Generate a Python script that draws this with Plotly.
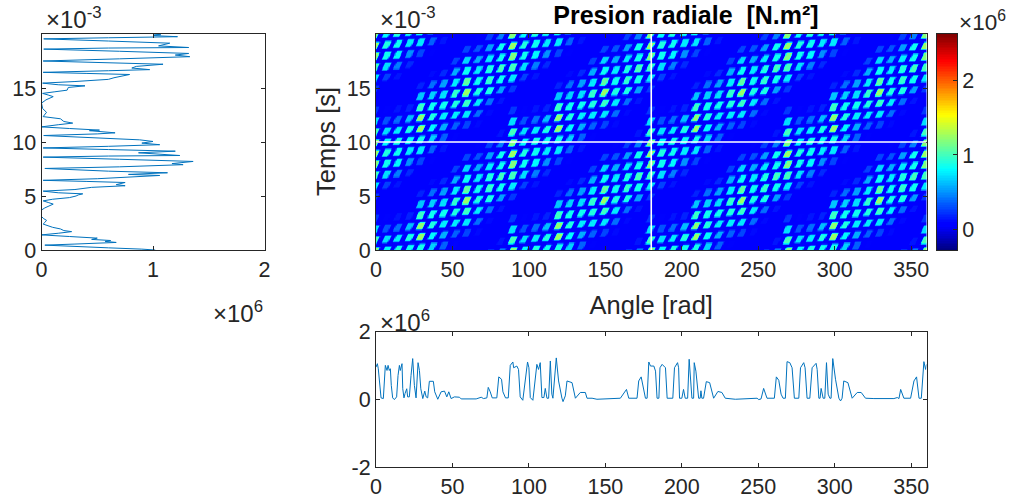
import numpy as np
import plotly.graph_objects as go

# Slot-cell amplitudes, one 90 deg x 10 ms period (unit 1e4 N.m2).
# Rows: time bin 0..9, columns: slot 0..11 (7.5 deg apart)
cell_values = [
    [100,  80,  90,  85,  88,  68,  36,   9,   8,   5,   5,  14],
    [ 72,  72,  76,  90, 125,  80,  58,  36,  28,  11,   5,   5],
    [ 24,  32,  40,  63, 122,  90,  76,  76,  75,  40,  11,   6],
    [  6,   9,  14,  18,  98,  85,  85,  90,  98,  76,  40,  14],
    [ 24,   5,   5,   6,  65,  68,  72,  95, 125,  90,  90,  54],
    [ 75,   5,   5,   5,  18,  40,  54,  76, 108,  85,  95,  85],
    [100,  27,  14,   6,   5,  11,  20,  58,  84,  76,  90, 100],
    [118,  72,  45,  20,   8,   5,   5,  27,  70,  58,  76,  85],
    [125,  85,  80,  50,  28,   9,   5,   7,  28,  32,  54,  85],
    [118,  90,  85,  76,  75,  36,  14,   5,   6,   9,  27,  45],
]
background_value = 4

# Left profile: time in ms, pressure in 1e6 N.m2
left_time = [0, .08, .2, .35, .45, .55, .7, .8, .88, .98, 1.1, 1.25, 1.32, 1.4, 1.55, 1.7, 1.8, 1.95, 2.1, 2.25, 2.4,
             2.55, 2.75, 2.9, 3.1, 3.4, 3.7, 3.9, 4.05, 4.25, 4.4, 4.55, 4.7, 4.85, 5.0, 5.1, 5.2, 5.3, 5.45, 5.6, 5.8, 5.95,
             6.05, 6.25, 6.35, 6.45, 6.6, 6.75, 6.9, 7.0, 7.15, 7.3, 7.55, 7.7, 7.9, 8.0, 8.2, 8.4, 8.6, 8.7, 8.75, 9.0,
             9.15, 9.3, 9.45, 9.6, 9.75, 9.9, 10.0,
             10.05, 10.2, 10.4, 10.6, 10.75, 10.85, 11.05, 11.1, 11.25, 11.4, 11.6, 11.75, 11.9, 12.15, 12.35, 12.55, 12.75,
             13.1, 13.6, 13.9, 14.2, 14.35, 14.5, 14.65, 14.8, 15.05, 15.2, 15.3, 15.45, 15.6, 15.8, 15.95, 16.25, 16.35, 16.45,
             16.6, 16.7, 16.85, 17.0, 17.2, 17.35, 17.5, 17.7, 17.9, 18.05, 18.2, 18.4, 18.6, 18.7, 18.75, 18.9, 19.15, 19.35,
             19.55, 19.65, 19.75, 19.85, 19.93, 20.0]
left_value = [1.02, .9, .6, .2, .03, .3, .67, .57, .62, .45, .5, .25, .1, .0, .15, .27, .2, .17, .1, .05, .015,
              .03, .045, .02, 0, .0, 0, .03, .06, .105, .06, .015, .1, .25, .31, .33, .37, .15, .015, .3, .45, .75,
              .67, .75, .4, .015, .5, .85, 1.06, .78, 1.13, .6, .03, .7, 1.27, 1.17, 1.36, .7, .015, .6, 1.24, .87,
              1.2, .6, .015, .6, 1.06, .9, .99,
              1.0, .88, .4, .02, .5, .66, .43, .52, .25, .0, .15, .28, .2, .17, .015, .03, .045,
              .01, .0, .04, .105, .06, .01, .12, .23, .24, .39, .15, .01, .3, .6, .65, .79, .4, .015,
              .6, .97, .81, .85, 1.09, .55, .015, .7, 1.33, 1.2, 1.32, .7, .02, .6, 1.32, 1.05, 1.15, .6,
              .02, .6, 1.22, 1.0, 1.07, 1.0]

# Bottom profile: angle in degrees, pressure in 1e6 N.m2
bottom_angle = [0, .9, 1.5, 2.6, 3.3, 4.8, 5.5, 6.1, 7.2, 7.9, 8.7, 9.4, 10, 10.9, 12, 13.5, 14.4, 15.3, 15.9, 17, 17.5, 18.3,
                19, 20.1, 20.7, 21.8, 22.9, 24, 25.1, 26.2, 27.5, 28.4, 29.3, 30.6, 31.9, 32.8, 33.8, 34.9, 37.5, 38.4, 40.4,
                42.6, 44.8, 46.3, 47.6, 49.1, 51.3, 54.6, 55.7, 65.5, 68.8, 70.3, 72.5, 73.4, 74.7, 76, 79, 80.3, 82.1, 83,
                84.7, 86.5, 87.8, 89.5, 90, 92.1, 93.2, 94.3, 96, 97.6, 98.7, 99.1, 100, 100.9, 102.6, 104.1, 105.2, 106.3,
                107.4, 108.5, 109.8, 110.7, 111.8, 112.9, 114, 115, 115.7, 117.9, 119.4, 121.6, 122.3, 123.8, 124.9, 128.2,
                130.4, 133.6, 136.9, 138, 141.3, 144.5, 156.5, 159.8, 163.8, 165.3, 170.7, 171.8, 173.4, 175.1, 176.2, 177.3,
                178.4, 179.5, 181.7, 182.8, 183.8, 185, 185.7, 187.1, 189.3, 190.4, 191.9, 192.4, 194.1, 195.2, 197.2, 197.9,
                198.5, 200, 201.1, 202.2, 203.8, 204.8, 205.9, 206.6, 207.7, 208.1, 209.2, 211, 212, 212.5, 213.1, 214.2, 216,
                218.2, 220.8, 223.6, 226.2, 228.4, 235, 249.2, 250.3, 251.8, 253.5, 254.6, 255.7, 260.5, 261.8, 263.4, 264.9,
                266.2, 267.7, 268.8, 270.6, 272.1, 273.6, 276.5, 277.6, 279.7, 280.6, 281.9, 283.7, 285.2, 287.8, 288.5, 289.6,
                290.4, 291.1, 292.4, 293.5, 294.6, 295.7, 296.8, 297.6, 298.7, 300.5, 302.7, 303.8, 304.8, 305.9, 308.6, 311.4,
                314.7, 317.3, 320.1, 325.6, 338.7, 340.9, 342, 343.1, 345.2, 349.6, 351.8, 353.5, 355.1, 356.6, 358.3, 359.4, 360]
bottom_value = [.95, 1.05, .9, .31, .04, .02, .7, 1.0, .85, 1.0, .85, .9, .41, .04, -.01, .07, .7, 1.0, .85, 1.05, .31, .04,
                .17, .31, .07, .07, .7, 1.2, .41, .04, 1.08, .85, .31, .02, .24, .07, .04, .53, .53, .22, 0,
                .22, .24, .07, .22, .02, .07, .06, .01, .01, .06, .02, .04, .35, .22, .04, .04, .66, .59, .22,
                .04, .04, 1.0, 1.1, .93, .98, .88, .07, -.03, .6, .93, 1.1, .93, .05, -.03, .6, 1.03, .88,
                1.08, .05, .05, .32, .03, .03, 1.13, .15, .03, 1.22, .54, .03, -.07, .1, .54, .49,
                .03, .2, .2, .03, .03, 0, .03, .03, .29, .03, .03, .54, .66, .25, .03, .03,
                1.1, .98, .98, .83, .03, .03, .93, 1.03, .93, .03, .03, .03, .03, .93, 1.08, .93,
                .03, .03, .29, .03, .03, 1.18, .34, .03, .03, 1.08, .83, .03, .03, .25, .03, .03, .52,
                .49, .03, .23, .2, .03, 0, .03, -.01, .01, .32, .15, .03, .03, .66, .56, .15,
                .03, .03, 1.11, 1.08, .93, .03, .03, .93, 1.08, .93, .03, .03, .93, 1.06, .88, .03,
                .03, .32, .03, .03, 1.08, .15, .03, .03, 1.2, .59, .03, -.05, .03, .54, .49, .03,
                .2, .2, .03, .02, .02, .05, .02, .29, .03, .03, .54, .66, .03, .03, 1.11, .88, 1.03]

colorbar_ticks = [0, 1e6, 2e6]
colorbar_labels = ["0", "1", "2"]
angle_ticks = [0, 50, 100, 150, 200, 250, 300, 350]
time_ticks_ms = [0, 5, 10, 15]
color_min, color_max = -0.28e6, 2.63e6

INK = "#262626"
BLUE = "#0072BD"
W, H = 1010, 501
FONT = "Liberation Sans"
TICK = 21.5

JET = [[0, "#00007f"], [.11, "#0000ff"], [.125, "#0000ff"], [.375, "#00ffff"], [.625, "#ffff00"],
       [.875, "#ff0000"], [1, "#7f0000"]]

# Expand the cell table on a fine grid so every slot cell shows as its leaning parallelogram.
cells = np.array(cell_values, dtype=float) * 1e4
x_fine = np.arange(0, 360.01, 0.75)
t_fine = np.arange(0, 20.01, 0.1)
XX, TT = np.meshgrid(x_fine, t_fine)
Z = np.full(XX.shape, background_value * 1e4)
CELL_W, CELL_H, LEAN = 5.0, 0.88, 3.6
for j in range(0, 49):
    xc = 7.5 * j - 1
    frac = (j / 12 - 0.05) % 1
    for r in range(-1, 21):
        tc = r + frac
        v = cells[r % 10, j % 12]
        dt = TT - tc
        dx = XX - xc - LEAN * dt
        m = np.clip((CELL_W / 2 - np.abs(dx)) / 0.9, 0, 1) * np.clip((CELL_H / 2 - np.abs(dt)) / 0.17, 0, 1)
        Z = np.maximum(Z, background_value * 1e4 + (v - background_value * 1e4) * m)

fig = go.Figure()
fig.add_trace(go.Scatter(x=np.array(left_value) * 1e6, y=np.array(left_time) * 1e-3, mode="lines",
                         line=dict(color=BLUE, width=1), xaxis="x", yaxis="y", showlegend=False))
fig.add_trace(go.Heatmap(x=x_fine, y=t_fine * 1e-3, z=Z, colorscale=JET, zmin=color_min, zmax=color_max, zsmooth="best",
                         xaxis="x2", yaxis="y2", showscale=False))
fig.add_trace(go.Scatter(x=bottom_angle, y=np.array(bottom_value) * 1e6, mode="lines",
                         line=dict(color=BLUE, width=1), xaxis="x3", yaxis="y3", showlegend=False))
# Colour bar drawn on its own pair of axes, to keep the panel positions fixed.
bar_levels = np.linspace(color_min, color_max, 128)
fig.add_trace(go.Heatmap(x=[0, 1], y=bar_levels, z=np.column_stack([bar_levels, bar_levels]), colorscale=JET,
                         zmin=color_min, zmax=color_max, xaxis="x4", yaxis="y4", showscale=False, hoverinfo="skip"))


def ax(dom, rng, vals, text, **kw):
    return dict(domain=dom, range=rng, tickvals=vals, ticktext=text, ticks="inside", ticklen=4, tickcolor=INK,
                showline=True, linecolor=INK, linewidth=1, mirror="ticks", showgrid=False, zeroline=False,
                automargin=False, tickfont=dict(family=FONT, size=TICK, color=INK), **kw)


def xdom(a, b):
    return [a / W, b / W]


def ydom(top, bot):
    return [1 - bot / H, 1 - top / H]


time_vals = [v * 1e-3 for v in time_ticks_ms]
time_text = [str(v) for v in time_ticks_ms]
angle_text = [str(v) for v in angle_ticks]

title_font = dict(family=FONT, size=25.5, color=INK)
fig.update_layout(
    width=W, height=H, margin=dict(l=0, r=0, t=0, b=0), paper_bgcolor="white", plot_bgcolor="white",
    xaxis=ax(xdom(41.5, 264.5), [0, 2e6], [0, 1e6, 2e6], ["0", "1", "2"], anchor="y"),
    yaxis=ax(ydom(34, 250), [0, 0.02], time_vals, time_text, anchor="x"),
    xaxis2=ax(xdom(376, 926.5), [0, 360], angle_ticks, angle_text, anchor="y2",
              title=dict(text="Angle [rad]", font=title_font)),
    yaxis2=ax(ydom(34, 250), [0, 0.02], time_vals, time_text, anchor="x2"),
    xaxis3=ax(xdom(376, 926.5), [0, 360], angle_ticks, angle_text, anchor="y3"),
    yaxis3=ax(ydom(331.5, 467), [-2e6, 2e6], [-2e6, 0, 2e6], ["-2", "0", "2"], anchor="x3"),
    xaxis4=dict(domain=xdom(937, 957), range=[0, 1], showticklabels=False, ticks="", showgrid=False, zeroline=False,
                showline=True, linecolor=INK, linewidth=1, mirror=True, anchor="y4"),
    yaxis4=dict(domain=ydom(34, 250), range=[color_min, color_max], side="right", anchor="x4", tickvals=colorbar_ticks,
                ticktext=colorbar_labels, ticks="inside", ticklen=4, tickcolor=INK, showgrid=False, zeroline=False,
                showline=True, linecolor=INK, linewidth=1, mirror=True,
                tickfont=dict(family=FONT, size=TICK, color=INK)),
    title=dict(text="<b>Presion radiale  [N.m²]</b>", x=686 / W, xanchor="center", y=1 - 15 / H, yanchor="middle",
               font=dict(family=FONT, size=25, color="#000000")),
    shapes=[
        dict(type="line", xref="x2", yref="y2", x0=180, x1=180, y0=0, y1=0.02, line=dict(color="white", width=1.6)),
        dict(type="line", xref="x2", yref="y2", x0=0, x1=360, y0=0.01, y1=0.01, line=dict(color="white", width=1.6)),
    ],
)

fig.add_annotation(x=326 / W, y=1 - 142 / H, xref="paper", yref="paper", text="Temps [s]", showarrow=False,
                   textangle=-90, xanchor="center", yanchor="middle", font=title_font)
for px, py, txt, size in [(44, 18, "×10<sup>-3</sup>", 24), (378, 18, "×10<sup>-3</sup>", 24),
                          (211, 312, "×10<sup>6</sup>", 24), (378, 321, "×10<sup>6</sup>", 24),
                          (957, 21, "×10<sup>6</sup>", 22.5)]:
    fig.add_annotation(x=px / W, y=1 - py / H, xref="paper", yref="paper", text=txt, showarrow=False,
                       xanchor="left", yanchor="middle", font=dict(family=FONT, size=size, color=INK))

fig.write_html("out.html", config=dict(displayModeBar=False),
               post_script="document.body.style.margin='0';document.body.style.overflow='hidden';")
